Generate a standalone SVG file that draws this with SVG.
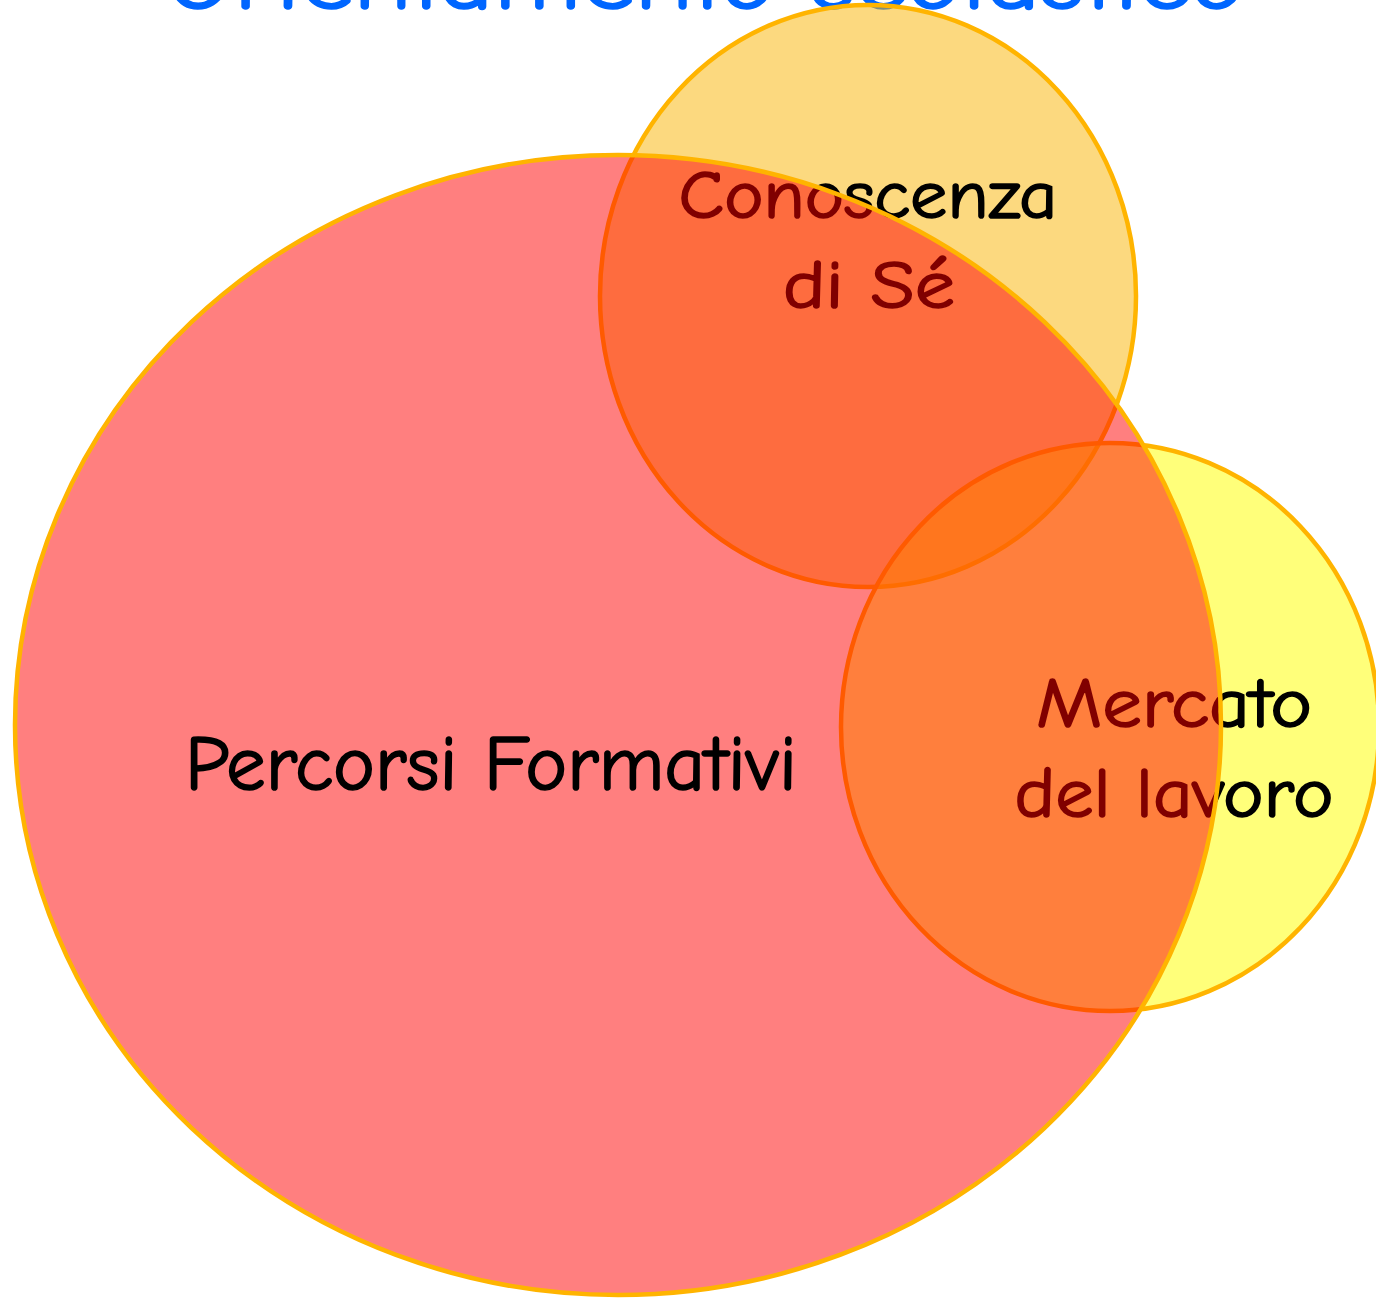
<svg xmlns="http://www.w3.org/2000/svg" width="1376" height="1299" viewBox="0 0 1376 1299">
<style>
.t{font-family:"Comic Sans MS","Comic Neue","Liberation Sans",sans-serif;fill:#000;stroke:#000;stroke-width:1.6;text-anchor:middle}
.c{stroke:#FFB400;stroke-width:4.5}
</style>
<rect width="1376" height="1299" fill="#fff"/>
<g id="title"><text class="t" x="706" y="9" font-size="92" style="fill:#0066FF;stroke:#0066FF" textLength="1080" lengthAdjust="spacingAndGlyphs">Orientamento scolastico</text></g>
<g id="conoscenza">
<ellipse class="c" cx="868" cy="296" rx="268" ry="291" fill="#FAB300" fill-opacity="0.5"/>
</g>
<g id="mercato">
<ellipse class="c" cx="1110" cy="727" rx="269" ry="284" fill="#FFFF00" fill-opacity="0.52"/>
</g>
<g id="labels-under">
<text class="t" x="868" y="218" font-size="68" textLength="379" lengthAdjust="spacingAndGlyphs">Conoscenza</text>
<text class="t" x="869" y="308" font-size="68" textLength="172" lengthAdjust="spacingAndGlyphs">di Sé</text>
<text class="t" x="1174" y="727" font-size="70" textLength="276" lengthAdjust="spacingAndGlyphs">Mercato</text>
<text class="t" x="1174" y="817" font-size="70" textLength="319" lengthAdjust="spacingAndGlyphs">del lavoro</text>
</g>
<g id="percorsi">
<ellipse class="c" cx="618" cy="725" rx="603" ry="570" fill="#FF0000" fill-opacity="0.5"/>
<text class="t" x="491" y="790" font-size="78" textLength="612" lengthAdjust="spacingAndGlyphs">Percorsi Formativi</text>
</g>
<g id="connectors"/>
</svg>
